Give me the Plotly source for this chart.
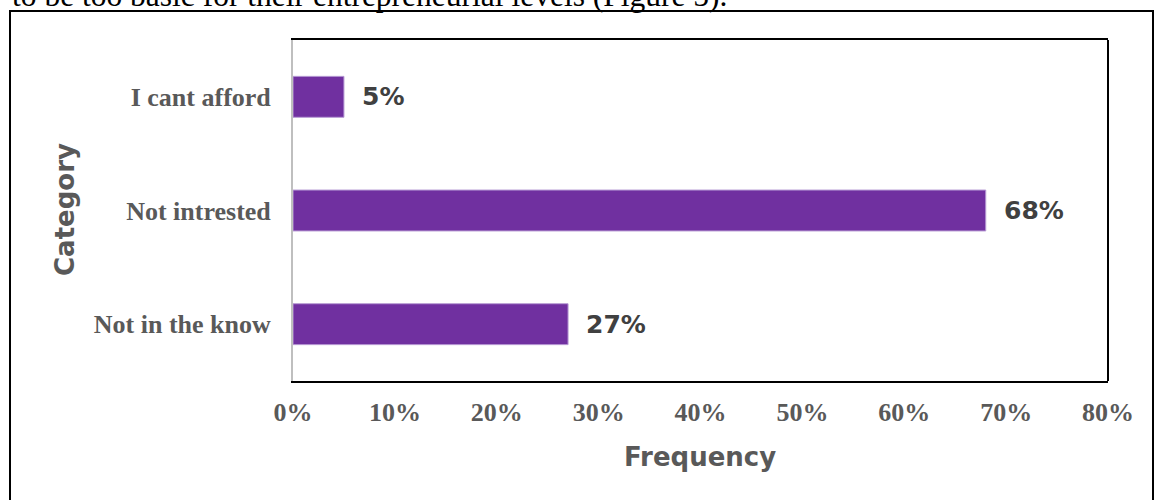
import plotly.graph_objects as go

categories = ["I cant afford", "Not intrested", "Not in the know"]
values = [0.05, 0.68, 0.27]
value_labels = ["5%", "68%", "27%"]
x_ticks = [0, 0.1, 0.2, 0.3, 0.4, 0.5, 0.6, 0.7, 0.8]
x_tick_labels = ["0%", "10%", "20%", "30%", "40%", "50%", "60%", "70%", "80%"]
caption = "to be too basic for their entrepreneurial levels (Figure 5)."

W, H = 1154, 500
L, R, T, B = 293, 46, 40, 119
pw, ph = W - L - R, H - T - B

def px(x):
    return (x - L) / pw

def py(y):
    return (H - B - y) / ph

serif = "Liberation Serif"
heavy = "DejaVu Sans"

fig = go.Figure()
fig.add_trace(go.Bar(
    x=values, y=categories, orientation="h",
    marker=dict(color="#7030A0", line=dict(color="#b79ad4", width=1)),
    hoverinfo="skip",
))

annotations = []
for c, v, lab in zip(categories, values, value_labels):
    annotations.append(dict(
        x=v, y=c, xref="x", yref="y", text="<b>" + lab + "</b>", showarrow=False,
        xanchor="left", yanchor="middle", xshift=16,
        font=dict(family=heavy, size=25, color="#404040"),
    ))

annotations.append(dict(
    x=px(65), y=py(210), xref="paper", yref="paper", text="<b>Category</b>",
    textangle=-90, showarrow=False, xanchor="center", yanchor="middle",
    font=dict(family=heavy, size=26, color="#595959"),
))
annotations.append(dict(
    x=px(700), y=py(457), xref="paper", yref="paper", text="<b>Frequency</b>",
    showarrow=False, xanchor="center", yanchor="middle",
    font=dict(family=heavy, size=26, color="#595959"),
))
annotations.append(dict(
    x=px(10), y=py(15), xref="paper", yref="paper", text=caption,
    showarrow=False, xanchor="left", yanchor="bottom",
    font=dict(family=serif, size=31.5, color="#000000"),
))

shapes = [
    dict(type="rect", xref="paper", yref="paper",
         x0=px(10), x1=px(1153), y0=py(506), y1=py(11),
         line=dict(color="black", width=2), fillcolor="rgba(0,0,0,0)", layer="below"),
    dict(type="line", xref="paper", yref="paper", x0=1, x1=1, y0=0, y1=1,
         line=dict(color="black", width=2)),
]

fig.update_layout(
    width=W, height=H,
    margin=dict(l=L, r=R, t=T, b=B, pad=0),
    paper_bgcolor="white", plot_bgcolor="white",
    showlegend=False,
    bargap=0.64,
    annotations=annotations,
    shapes=shapes,
    xaxis=dict(
        range=[0, 0.8], tickvals=x_ticks, ticktext=["<b>" + t + "</b>" for t in x_tick_labels],
        showgrid=False, zeroline=False,
        showline=True, linecolor="black", linewidth=2, mirror=True,
        ticks="", ticklabelstandoff=7,
        tickfont=dict(family=serif, size=26, color="#595959"),
    ),
    yaxis=dict(
        autorange="reversed",
        tickvals=categories, ticktext=["<b>" + c + "</b>" for c in categories],
        showgrid=False, zeroline=False,
        showline=True, linecolor="#bfbfbf", linewidth=2,
        ticks="", ticklabelstandoff=15,
        tickfont=dict(family=serif, size=26, color="#595959"),
    ),
)

fig.write_html("out.html")
